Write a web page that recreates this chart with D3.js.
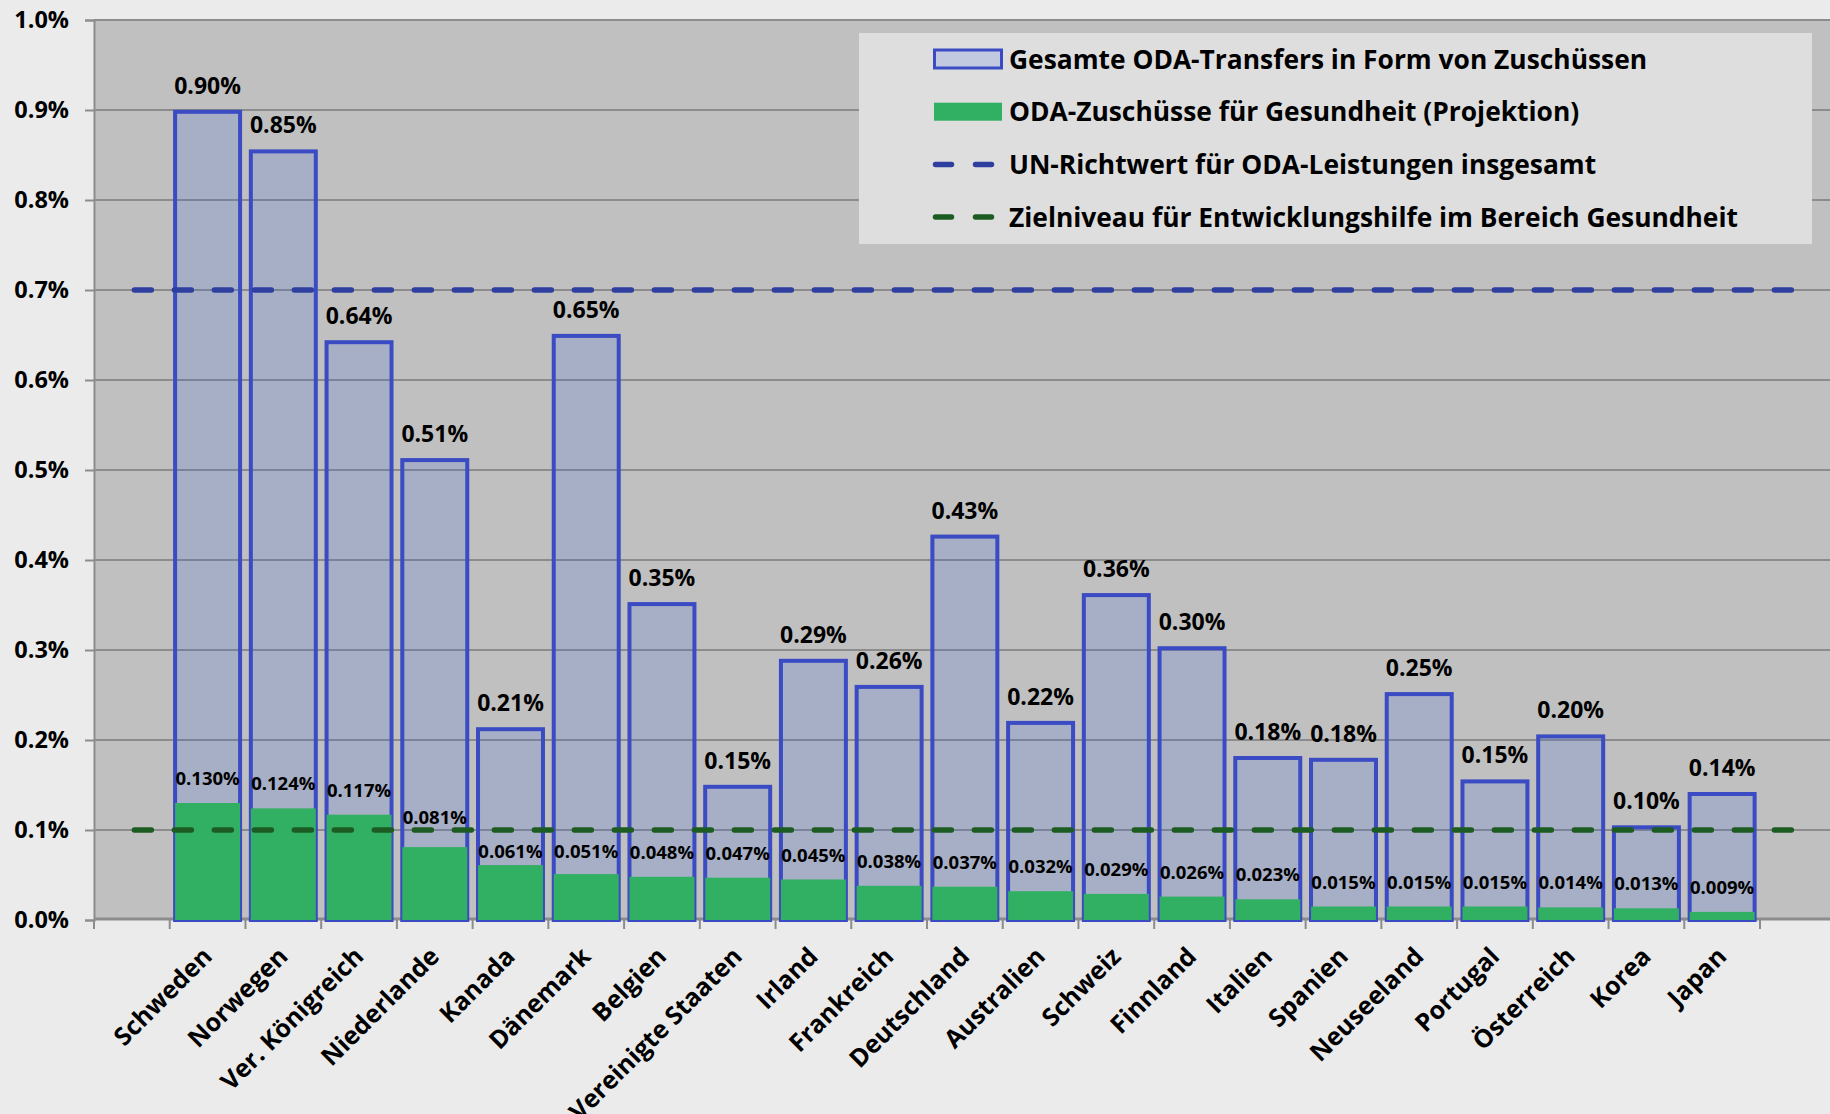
<!DOCTYPE html>
<html>
<head>
<meta charset="utf-8">
<script src="https://cdn.jsdelivr.net/npm/d3@7"></script>
<style>
  html, body { margin: 0; padding: 0; background: #ebebeb; }
  svg { display: block; }
  text { font-family: "Open Sans", "DejaVu Sans", sans-serif; font-weight: 700; fill: #000; }
</style>
</head>
<body>
<svg id="chart" width="1830" height="1114"></svg>
<script>
// ---------------- data ----------------
const categories = ["Schweden", "Norwegen", "Ver. Königreich", "Niederlande", "Kanada", "Dänemark", "Belgien",
  "Vereinigte Staaten", "Irland", "Frankreich", "Deutschland", "Australien", "Schweiz", "Finnland", "Italien",
  "Spanien", "Neuseeland", "Portugal", "Österreich", "Korea", "Japan"];
// total ODA grants, % of GNI
const totalOda = [0.898, 0.854, 0.642, 0.511, 0.212, 0.649, 0.351, 0.148, 0.288, 0.259, 0.426, 0.219, 0.361, 0.302,
  0.180, 0.178, 0.251, 0.154, 0.204, 0.103, 0.140];
// ODA grants for health (projection), % of GNI
const healthOda = [0.130, 0.124, 0.117, 0.081, 0.061, 0.051, 0.048, 0.047, 0.045, 0.038, 0.037, 0.032, 0.029, 0.026,
  0.023, 0.015, 0.015, 0.015, 0.014, 0.013, 0.009];
const unTarget = 0.7;       // UN target for total ODA
const healthTarget = 0.1;   // target level for health aid
const yTicks = [0, 0.1, 0.2, 0.3, 0.4, 0.5, 0.6, 0.7, 0.8, 0.9, 1.0];
const yTickLabels = ["0.0%", "0.1%", "0.2%", "0.3%", "0.4%", "0.5%", "0.6%", "0.7%", "0.8%", "0.9%", "1.0%"];
const legendLabels = [
  "Gesamte ODA-Transfers in Form von Zuschüssen",
  "ODA-Zuschüsse für Gesundheit (Projektion)",
  "UN-Richtwert für ODA-Leistungen insgesamt",
  "Zielniveau für Entwicklungshilfe im Bereich Gesundheit"
];

// ---------------- layout ----------------
const W = 1830, H = 1114;
const plot = { left: 94, right: 1830, top: 20, bottom: 920 };
const axisEnd = 1760;

const colors = {
  page: "#ebebeb", plotBg: "#c0c0c0", grid: "#8c8c8c",
  barStroke: "#3a4bc3", barFill: "rgba(20,80,230,0.15)",
  green: "#31af62", unLine: "#2e3fa0", healthLine: "#1c5c22", legendBg: "#dedede"
};

const svg = d3.select("#chart");
svg.append("rect").attr("width", W).attr("height", H).attr("fill", colors.page);

// scales
const slots = ["__empty__"].concat(categories);
const x = d3.scaleBand().domain(slots).range([plot.left, axisEnd]).padding(0);
const bw = x.bandwidth();
const y = d3.scaleLinear().domain([0, 1.0]).range([plot.bottom, plot.top]);
const cx = c => x(c) + bw / 2;

// plot background
svg.append("rect").attr("x", plot.left).attr("y", plot.top)
  .attr("width", plot.right - plot.left).attr("height", plot.bottom - plot.top)
  .attr("fill", colors.plotBg);

// gridlines
svg.append("g").selectAll("line").data(yTicks.slice(1)).join("line")
  .attr("x1", plot.left).attr("x2", plot.right)
  .attr("y1", d => y(d)).attr("y2", d => y(d))
  .attr("stroke", colors.grid).attr("stroke-width", 2);

// y axis
const yAxis = d3.axisLeft(y).tickValues(yTicks).tickSize(9).tickPadding(16)
  .tickFormat((d, i) => yTickLabels[i]);
const gy = svg.append("g").attr("transform", `translate(${plot.left},0)`).call(yAxis);
gy.select(".domain").attr("stroke", colors.grid).attr("stroke-width", 2);
gy.selectAll(".tick line").attr("stroke", colors.grid).attr("stroke-width", 2);
gy.selectAll(".tick text").style("font-size", "23.5px").style("font-family", "'Open Sans', sans-serif")
  .style("font-weight", 700).attr("fill", "#000");

// x axis baseline
svg.append("line").attr("x1", plot.left).attr("x2", plot.right)
  .attr("y1", plot.bottom - 1).attr("y2", plot.bottom - 1)
  .attr("stroke", colors.grid).attr("stroke-width", 3);

// x ticks at band boundaries
const boundaries = slots.map(s => x(s)).concat([axisEnd]);
svg.append("g").selectAll("line").data(boundaries).join("line")
  .attr("x1", d => d).attr("x2", d => d)
  .attr("y1", plot.bottom).attr("y2", plot.bottom + 9)
  .attr("stroke", colors.grid).attr("stroke-width", 2);

// bars
const barW = bw * 0.858;
const data = categories.map((c, i) => ({ c, total: totalOda[i], health: healthOda[i] }));

svg.append("g").selectAll("rect").data(data).join("rect")
  .attr("x", d => cx(d.c) - barW / 2).attr("width", barW)
  .attr("y", d => y(d.total)).attr("height", d => y(0) - y(d.total))
  .attr("fill", colors.barFill).attr("stroke", colors.barStroke).attr("stroke-width", 4);

svg.append("g").selectAll("rect").data(data).join("rect")
  .attr("x", d => cx(d.c) - barW / 2).attr("width", barW)
  .attr("y", d => y(d.health)).attr("height", d => y(0) - y(d.health))
  .attr("fill", colors.green);

// target lines (from centre of the empty first slot to one slot past the last category)
const lineX1 = x("__empty__") + bw / 2;
const lineX2 = axisEnd + bw / 2;
function targetLine(v, col) {
  svg.append("line").attr("x1", lineX1 + 2.5).attr("x2", lineX2)
    .attr("y1", y(v)).attr("y2", y(v))
    .attr("stroke", col).attr("stroke-width", 5.5)
    .attr("stroke-linecap", "round").attr("stroke-dasharray", "17 23");
}
targetLine(unTarget, colors.unLine);
targetLine(healthTarget, colors.healthLine);

// total labels
svg.append("g").selectAll("text").data(data).join("text")
  .attr("x", d => cx(d.c)).attr("y", d => y(d.total) - 18)
  .attr("text-anchor", "middle").style("font-size", "23px")
  .text(d => d3.format(".2f")(d.total) + "%");

// health labels (nudged so they do not sit on the health target line)
const lineY = y(healthTarget);
function healthLabelY(v) {
  let b = y(v) - 18;
  if (b > lineY - 7 && b - 14 < lineY + 28) {
    b = v > healthTarget * 0.75 ? lineY - 6 : Math.max(b, lineY + 28);
  }
  return b;
}
svg.append("g").selectAll("text").data(data).join("text")
  .attr("x", d => cx(d.c)).attr("y", d => healthLabelY(d.health))
  .attr("text-anchor", "middle").style("font-size", "18.5px")
  .text(d => d3.format(".3f")(d.health) + "%");

// category labels
svg.append("g").selectAll("text").data(categories).join("text")
  .attr("transform", c => `translate(${cx(c) + 6},${plot.bottom + 38}) rotate(-45)`)
  .attr("text-anchor", "end").style("font-size", "25px")
  .text(c => c);

// legend
const lg = svg.append("g");
const lgBox = { x: 859, y: 33, w: 953, h: 211 };
lg.append("rect").attr("x", lgBox.x).attr("y", lgBox.y).attr("width", lgBox.w).attr("height", lgBox.h)
  .attr("fill", colors.legendBg);
const rowY = i => lgBox.y + 26 + i * 52.7;
const swX = lgBox.x + 74, swW = 68;
lg.append("rect").attr("x", swX + 1.5).attr("y", rowY(0) - 9).attr("width", swW - 1).attr("height", 18)
  .attr("fill", colors.barFill).attr("stroke", colors.barStroke).attr("stroke-width", 3);
lg.append("rect").attr("x", swX + 1).attr("y", rowY(1) - 9).attr("width", swW).attr("height", 18)
  .attr("fill", colors.green);
[[2, colors.unLine], [3, colors.healthLine]].forEach(([i, col]) => {
  lg.append("line").attr("x1", swX + 2.5).attr("x2", swX + swW)
    .attr("y1", rowY(i)).attr("y2", rowY(i))
    .attr("stroke", col).attr("stroke-width", 5.5)
    .attr("stroke-linecap", "round").attr("stroke-dasharray", "16 24");
});
const lt = lg.selectAll("text.leg").data(legendLabels).join("text").attr("class", "leg")
  .attr("x", lgBox.x + 150).attr("y", (d, i) => rowY(i) + 9.5)
  .style("font-size", "26px").text(d => d);
// fit the legend text to the box width used in the reference
const longest = lt.nodes()[3].getComputedTextLength();
const target = 729;
if (longest > 0) lt.style("font-size", (26 * target / longest).toFixed(2) + "px");
</script>
</body>
</html>
